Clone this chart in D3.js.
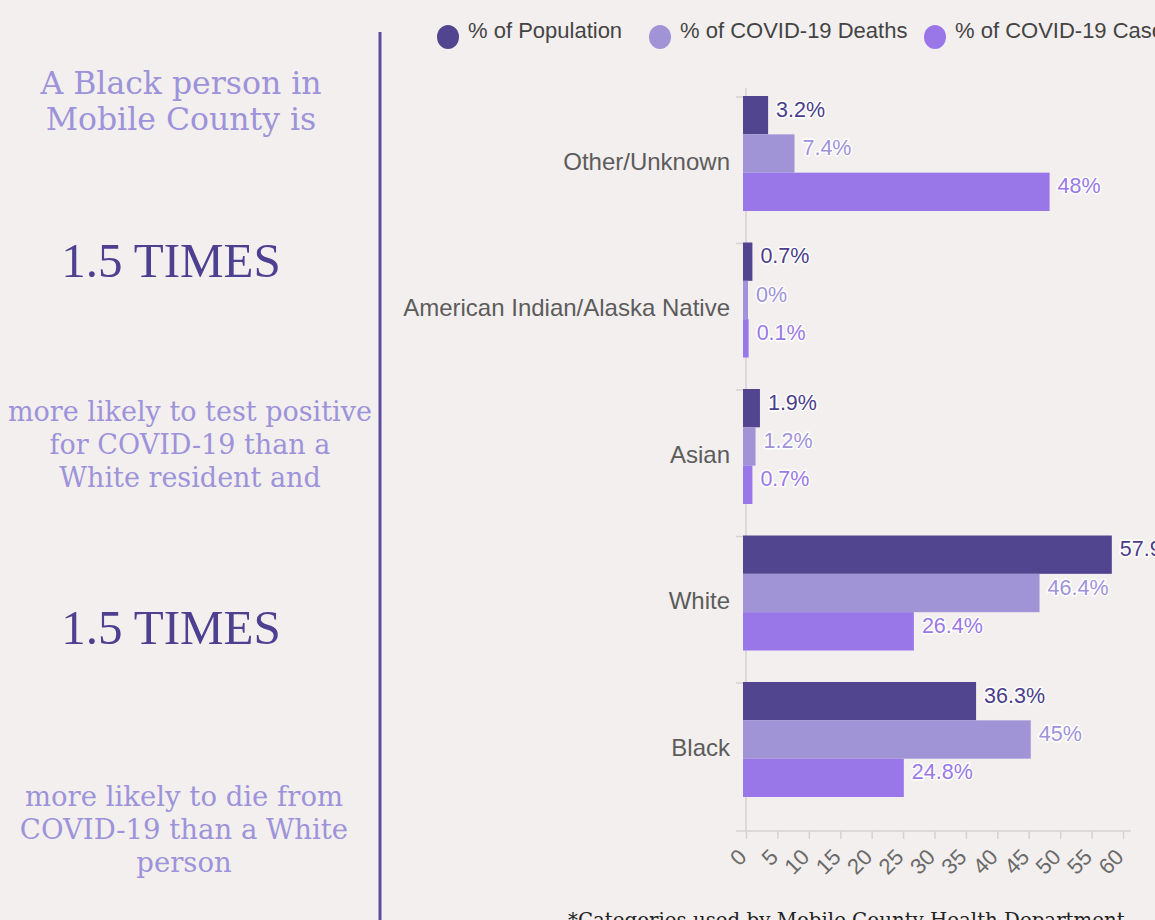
<!DOCTYPE html>
<html>
<head>
<meta charset="utf-8">
<script src="https://cdn.jsdelivr.net/npm/d3@7"></script>
<style>
  html, body { margin: 0; padding: 0; background: #f3efee; overflow: hidden; }
  svg { display: block; }
  .serif { font-family: "DejaVu Serif", serif; }
  .times { font-family: "Liberation Serif", serif; }
  .sans { font-family: "Liberation Sans", Arial, sans-serif; }
</style>
</head>
<body>
<div id="chart"></div>
<script>
// data
var categories = ["Other/Unknown", "American Indian/Alaska Native", "Asian", "White", "Black"];
var seriesNames = ["% of Population", "% of COVID-19 Deaths", "% of COVID-19 Cases"];
var population = [3.2, 0.7, 1.9, 57.9, 36.3];
var deaths = [7.4, 0, 1.2, 46.4, 45];
var cases = [48, 0.1, 0.7, 26.4, 24.8];
var xTicks = [0, 5, 10, 15, 20, 25, 30, 35, 40, 45, 50, 55, 60];

var barColors = ["#52458f", "#a094d7", "#9a77e9"];
var labelColors = ["#4b3d8a", "#a092da", "#9a78e8"];

var leftLines1 = ["A Black person in", "Mobile County is"];
var leftLines2 = ["more likely to test positive", "for COVID-19 than a", "White resident and"];
var leftLines3 = ["more likely to die from", "COVID-19 than a White", "person"];

var width = 1155, height = 920;

var svg = d3.select("#chart").append("svg")
    .attr("width", width)
    .attr("height", height);

svg.append("rect").attr("width", width).attr("height", height).attr("fill", "#f3efee");

// left column text
function textBlock(lines, cx, y0, lh, size) {
    svg.append("g").selectAll("text").data(lines).enter()
        .append("text")
        .attr("class", "serif")
        .attr("x", cx)
        .attr("y", function (d, i) { return y0 + i * lh; })
        .attr("text-anchor", "middle")
        .attr("font-size", size)
        .attr("fill", "#9d93da")
        .text(function (d) { return d; });
}
textBlock(leftLines1, 181, 94, 36, 31.5);
textBlock(leftLines2, 190, 421, 33, 27);
textBlock(leftLines3, 184, 806, 33, 27.5);

[277, 644].forEach(function (y) {
    svg.append("text")
        .attr("class", "times")
        .attr("x", 171)
        .attr("y", y)
        .attr("text-anchor", "middle")
        .attr("font-size", 49)
        .attr("fill", "#4e4091")
        .text("1.5 TIMES");
});

// divider line
svg.append("line")
    .attr("x1", 380).attr("x2", 380)
    .attr("y1", 32).attr("y2", height)
    .attr("stroke", "#5a4b9f")
    .attr("stroke-width", 3);

// scales
var x = d3.scaleLinear().domain([0, 60]).range([746, 1123]);
var y = d3.scaleBand().domain(categories).range([96, 797]).paddingInner(0.215).paddingOuter(0);
var ySub = d3.scaleBand().domain(seriesNames).range([0, y.bandwidth()]);

var rows = categories.map(function (c, i) {
    return { cat: c, vals: [population[i], deaths[i], cases[i]] };
});

// y axis line & ticks
svg.append("line")
    .attr("x1", x(0)).attr("x2", x(0))
    .attr("y1", 88).attr("y2", 831)
    .attr("stroke", "#d6d2d1").attr("stroke-width", 1.5);

svg.append("g").selectAll("line").data(categories).enter()
    .append("line")
    .attr("x1", x(0) - 10).attr("x2", x(0))
    .attr("y1", function (d) { return y(d) + 1; })
    .attr("y2", function (d) { return y(d) + 1; })
    .attr("stroke", "#d6d2d1").attr("stroke-width", 1.5);

// x axis
var xAxis = svg.append("g")
    .attr("transform", "translate(0,831)")
    .call(d3.axisBottom(x).tickValues(xTicks).tickSize(8).tickPadding(6));
xAxis.select(".domain").attr("stroke", "#d6d2d1").attr("stroke-width", 1.5)
    .attr("d", "M" + (x(0) - 10) + ",0H" + (x(60) + 8));
xAxis.selectAll(".tick line").attr("stroke", "#d6d2d1").attr("stroke-width", 1.5);
xAxis.selectAll(".tick text")
    .attr("class", "sans")
    .attr("font-size", 22)
    .attr("fill", "#6a6a6a")
    .attr("text-anchor", "end")
    .attr("x", 0)
    .attr("y", 0)
    .attr("dy", "0.35em")
    .attr("transform", "translate(-4,22) rotate(-45)");

// bars
var groups = svg.append("g").selectAll("g").data(rows).enter()
    .append("g")
    .attr("transform", function (d) { return "translate(0," + y(d.cat) + ")"; });

groups.selectAll("rect").data(function (d) { return d.vals; }).enter()
    .append("rect")
    .attr("x", x(0) - 3)
    .attr("y", function (d, i) { return ySub(seriesNames[i]); })
    .attr("width", function (d) { return x(d) - x(0) + 5; })
    .attr("height", ySub.bandwidth())
    .attr("fill", function (d, i) { return barColors[i]; });

groups.selectAll("text.val").data(function (d) { return d.vals; }).enter()
    .append("text")
    .attr("class", "val sans")
    .attr("x", function (d) { return x(d) + 10; })
    .attr("y", function (d, i) { return ySub(seriesNames[i]) + ySub.bandwidth() / 2 - 6; })
    .attr("dy", "0.35em")
    .attr("font-size", 21.5)
    .attr("fill", function (d, i) { return labelColors[i]; })
    .attr("stroke", "#ffffff")
    .attr("stroke-width", 3)
    .attr("stroke-linejoin", "round")
    .attr("paint-order", "stroke")
    .text(function (d) { return d + "%"; });

// category labels
svg.append("g").selectAll("text").data(categories).enter()
    .append("text")
    .attr("class", "sans")
    .attr("x", 730)
    .attr("y", function (d) { return y(d) + y.bandwidth() / 2 + 8; })
    .attr("dy", "0.35em")
    .attr("text-anchor", "end")
    .attr("font-size", 24)
    .attr("fill", "#5c5c5c")
    .text(function (d) { return d; });

// legend
var legendX = [448, 660, 935];
var legend = svg.append("g").selectAll("g").data(seriesNames).enter()
    .append("g")
    .attr("transform", function (d, i) { return "translate(" + legendX[i] + ",37)"; });
legend.append("ellipse")
    .attr("rx", 11).attr("ry", 12)
    .attr("fill", function (d, i) { return barColors[i]; });
legend.append("text")
    .attr("class", "sans")
    .attr("x", 20)
    .attr("y", -7)
    .attr("dy", "0.35em")
    .attr("font-size", 22)
    .attr("fill", "#444")
    .text(function (d) { return d; });

// footnote
svg.append("text")
    .attr("class", "serif")
    .attr("x", 568)
    .attr("y", 927)
    .attr("font-size", 19.8)
    .attr("fill", "#222")
    .text("*Categories used by Mobile County Health Department");
</script>
</body>
</html>
